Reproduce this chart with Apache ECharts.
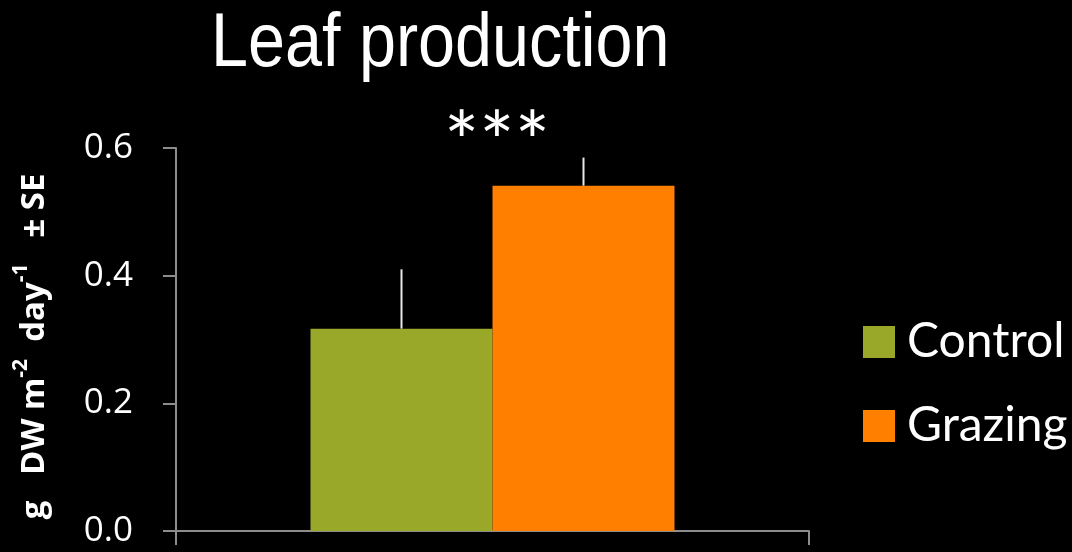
<!DOCTYPE html>
<html>
<head>
<meta charset="utf-8">
<script src="https://cdn.jsdelivr.net/npm/echarts@6/dist/echarts.min.js"></script>
<style>
  html, body { margin: 0; padding: 0; background: #000; }
  #chart { width: 1072px; height: 552px; }
</style>
</head>
<body>
<div id="chart"></div>
<script>
// data
const groups = ['Control', 'Grazing']
const means = [0.317, 0.541]
const errors = [0.093, 0.044]
const category = ['']
const yMin = 0
const yMax = 0.6
const yStep = 0.2

const colors = ['#9aa82a', '#ff7f00']
const barWidth = 182

const chart = echarts.init(document.getElementById('chart'))

const barSeries = groups.map((name, i) => ({
  name: name,
  type: 'bar',
  data: [means[i]],
  barWidth: barWidth,
  barGap: '0%',
  itemStyle: { color: colors[i] }
}))

/* error bars, only the upper half, drawn at each bar's centre */
const errorSeries = {
  type: 'custom',
  z: 5,
  silent: true,
  data: groups.map((g, i) => [0, means[i], errors[i], i === 0 ? -1 : 1]),
  renderItem: (params, api) => {
    const base = api.coord([api.value(0), api.value(1)])
    const top = api.coord([api.value(0), api.value(1) + api.value(2)])
    const x = base[0] + api.value(3) * barWidth / 2
    return {
      type: 'line',
      shape: { x1: x, y1: base[1], x2: x, y2: top[1] },
      style: { stroke: '#e8e8e8', lineWidth: 2 }
    }
  }
}

chart.setOption({
  backgroundColor: '#000',
  animation: false,
  graphic: [
    {
      // title, a bit narrower than Liberation Sans
      type: 'text',
      x: 211,
      y: 7,
      scaleX: 0.875,
      style: {
        text: 'Leaf production',
        fill: '#fff',
        font: '76px "Liberation Sans"',
        align: 'left',
        verticalAlign: 'top'
      }
    },
    {
      type: 'text',
      x: 497,
      y: 104,
      style: {
        text: '***',
        fill: '#fff',
        font: '83px Lato',
        align: 'center',
        verticalAlign: 'top'
      }
    }
  ],
  legend: {
    data: groups,
    orient: 'vertical',
    left: 863,
    top: 318,
    padding: 0,
    icon: 'rect',
    itemWidth: 32,
    itemHeight: 32,
    itemGap: 36,
    textStyle: {
      color: '#fff',
      fontFamily: 'Lato',
      fontSize: 48,
      lineHeight: 46,
      padding: [0, 0, 0, 7]
    }
  },
  grid: {
    left: 176,
    right: 263,
    top: 148,
    bottom: 21
  },
  xAxis: {
    type: 'category',
    data: category,
    axisLine: { lineStyle: { color: '#8c8c8c', width: 2 } },
    axisTick: { show: true, length: 14, lineStyle: { color: '#8c8c8c', width: 2 } },
    axisLabel: { show: false }
  },
  yAxis: {
    type: 'value',
    min: yMin,
    max: yMax,
    interval: yStep,
    name: '{a|g   DW m}{s|-2}{a|  day}{s|-1}{a|   ± SE}',
    nameLocation: 'middle',
    nameRotate: 90,
    nameGap: 125,
    nameTextStyle: {
      color: '#fff',
      fontFamily: 'Open Sans',
      fontWeight: 'bold',
      fontSize: 33,
      padding: [0, 14, 0, 0],
      rich: {
        a: {
          color: '#fff',
          fontFamily: 'Open Sans',
          fontWeight: 'bold',
          fontSize: 33,
          lineHeight: 40,
          verticalAlign: 'bottom'
        },
        s: {
          color: '#fff',
          fontFamily: 'Open Sans',
          fontWeight: 'bold',
          fontSize: 21,
          lineHeight: 20,
          verticalAlign: 'top'
        }
      }
    },
    splitLine: { show: false },
    axisLine: { show: true, lineStyle: { color: '#8c8c8c', width: 2 } },
    axisTick: { show: true, length: 13, lineStyle: { color: '#8c8c8c', width: 2 } },
    axisLabel: {
      color: '#fff',
      fontFamily: 'Open Sans',
      fontSize: 35,
      margin: 43,
      formatter: v => v.toFixed(1)
    }
  },
  series: [...barSeries, errorSeries]
})

window.addEventListener('resize', () => chart.resize())
</script>
</body>
</html>
